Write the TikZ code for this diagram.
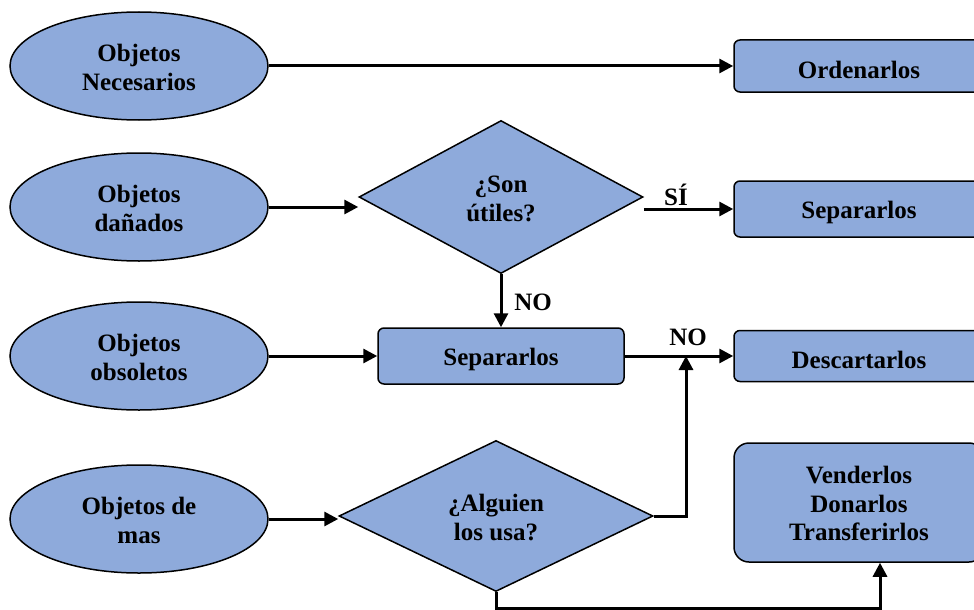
\documentclass[tikz,border=0pt]{standalone}
\usepackage{fontspec}
\setmainfont{Liberation Serif}
\usetikzlibrary{shapes.geometric,arrows.meta}
\definecolor{azul}{HTML}{8EAADB}
\begin{document}
\begin{tikzpicture}[x=1pt,y=-1pt,
		every node/.style={font=\fontsize{25}{28.5}\selectfont\bfseries,align=center},
		obj/.style={ellipse,draw,fill=azul,line width=1.5,minimum width=258,minimum height=108,inner sep=0,text height=49pt},
		caja/.style={draw,fill=azul,line width=1.5,rounded corners=6,minimum width=250,minimum height=54,inner sep=0,text height=24.5pt},
		preg/.style={diamond,draw,fill=azul,line width=1.5,inner sep=0,text height=48.5pt},
		flecha/.style={line width=3,-{Triangle[length=14,width=14]}}]
			\useasboundingbox (0,0) rectangle (974,610);
			\clip (0,0) rectangle (974,610);
			\coordinate (En) at (139,66);
			\coordinate (Ed) at (139,207);
			\coordinate (Eo) at (139,356);
			\coordinate (Em) at (139,519);
			\coordinate (Pu) at (501,197);
			\coordinate (Pa) at (496,516);
			\coordinate (Co) at (859,66);
			\coordinate (Cs) at (859,209);
			\coordinate (Cm) at (501,356);
			\coordinate (Cd) at (859,356);
			\coordinate (Cv) at (859,502.5);
			\node[obj] (en) at (En) {Objetos\\Necesarios};
			\node[obj] (ed) at (Ed) {Objetos\\dañados};
			\node[obj] (eo) at (Eo) {Objetos\\obsoletos};
			\node[obj] (em) at (Em) {Objetos de\\mas};
			\node[preg,minimum width=284,minimum height=153] (pu) at (Pu) {¿Son\\útiles?};
			\node[preg,minimum width=314,minimum height=151] (pa) at (Pa) {¿Alguien\\los usa?};
			\node[caja,minimum height=52] (co) at (Co) {Ordenarlos};
			\node[caja,minimum height=56] (cs) at (Cs) {Separarlos};
			\node[caja,minimum width=246,minimum height=56] (cm) at (Cm) {Separarlos};
			\node[caja,minimum height=51] (cd) at (Cd) {Descartarlos};
			\node[caja,minimum height=119,rounded corners=15,text height=77pt] (cv) at (Cv) {Venderlos\\Donarlos\\Transferirlos};
			\coordinate (J) at (686,356);
			\coordinate (V) at (880,608);
			\draw[flecha] (en) to (co);
			\draw[flecha] (ed.east) to (ed.east -| pu.west);
			\draw[flecha] (pu.east |- cs.west) to (cs.west);
			\draw[flecha] (pu.south) to (cm.north);
			\draw[flecha] (eo.east) to (cm.west);
			\draw[flecha] (cm.east) to (cd.west);
			\draw[flecha] (em.east) to (em.east -| pa.west);
			\draw[flecha] (pa.east) -| (J);
			\draw[flecha] (pa.south) |- (V) to (V |- cv.south);
			\node (si) at (676,195) {SÍ};
			\node (no1) at (533,302) {NO};
			\node (no2) at (688,337) {NO};
		\end{tikzpicture}
\end{document}
